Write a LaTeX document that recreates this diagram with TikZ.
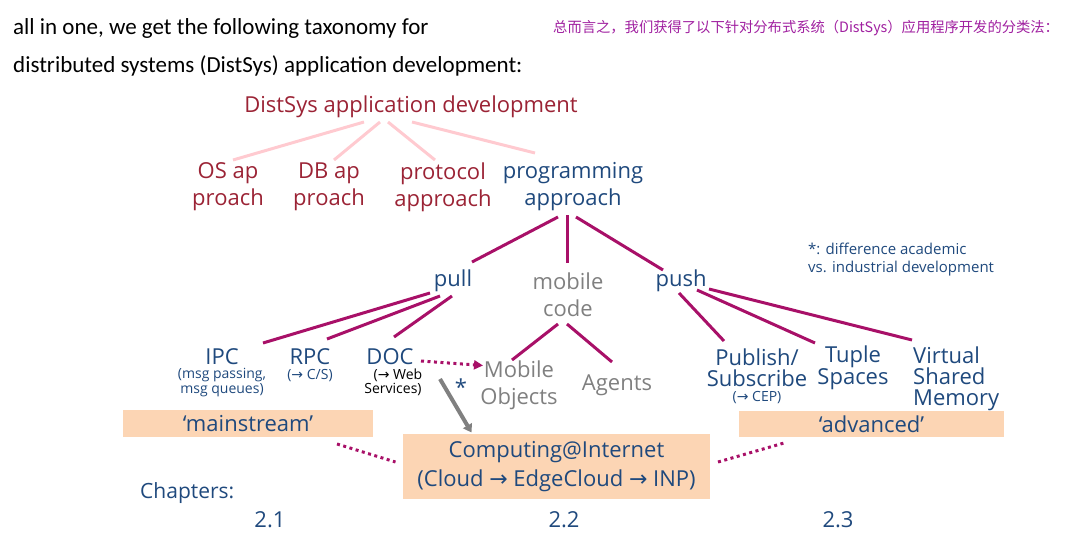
\documentclass[tikz,border=0pt]{standalone}
\usepackage{fontspec}
\setmainfont{Open Sans}
\newfontfamily\calfont{Carlito}
\newfontfamily\cjk{Noto Sans CJK SC}
\newfontfamily\symfont{DejaVu Sans}
\usetikzlibrary{arrows.meta}
\definecolor{dred}{RGB}{155,35,53}
\definecolor{dblue}{RGB}{31,73,125}
\definecolor{mgrey}{RGB}{128,128,128}
\definecolor{pinkl}{RGB}{255,202,208}
\definecolor{mag}{RGB}{168,16,104}
\definecolor{peach}{RGB}{252,213,180}
\definecolor{purp}{RGB}{160,32,160}
\newcommand{\ar}{{\symfont\char"2192}}
\tikzset{
  txt/.style={inner sep=0pt, align=center, font=\fontsize{22}{27}\selectfont},
  redt/.style={txt, text=dred},
  bluet/.style={txt, text=dblue},
  greyt/.style={txt, text=mgrey},
  small/.style={inner sep=0pt, align=center, font=\fontsize{14}{14.5}\selectfont},
  pinkline/.style={draw=pinkl, line width=3pt},
  magline/.style={draw=mag, line width=3pt},
  magdots/.style={draw=mag, line width=3pt, dash pattern=on 3pt off 3.5pt},
  peachbox/.style={fill=peach, inner sep=0pt, text=dblue, font=\fontsize{22}{29}\selectfont, align=center},
}
\begin{document}
\begin{tikzpicture}[x=1pt,y=-1pt]
\useasboundingbox (0,0) rectangle (1082,541);
% header text
\node[anchor=west, inner sep=0pt, font=\calfont\fontsize{23}{23}\selectfont] (h1) at (13,28) {all in one, we get the following taxonomy for};
\node[anchor=west, inner sep=0pt, font=\calfont\fontsize{23}{23}\selectfont] (h2) at (13,66) {distributed systems (DistSys) application development:};
\node[anchor=west, inner sep=0pt, text=purp, font=\cjk\fontsize{14.3}{14.5}\selectfont] (cn) at (553,28) {总而言之，我们获得了以下针对分布式系统（DistSys）应用程序开发的分类法：};
% level 0/1
\node[redt] (root) at (411,107) {DistSys application development};
\node[redt] (os) at (228,187) {OS ap\\proach};
\node[redt] (db) at (329,187) {DB ap\\proach};
\node[redt] (proto) at (443,187) {protocol\\approach};
\node[bluet] (prog) at (573,187) {programming\\approach};
% level 2
\node[bluet] (pull) at (453,281) {pull};
\node[greyt] (mob) at (568,294.5) {mobile\\code};
\node[bluet] (push) at (681,281) {push};
% level 3
\node[bluet] (ipc) at (222,357) {IPC};
\node[small, text=dblue] (ipcs) at (222,382.5) {(msg passing,\\msg queues)};
\node[bluet] (rpc) at (310,357) {RPC};
\node[small, text=dblue] (rpcs) at (310,376) {(\ar{} C/S)};
\node[bluet] (doc) at (390,357) {DOC};
\node[small, text=black] (docs) at (393,382.5) {\hspace*{10pt}(\ar{} Web\\Services)};
\node[greyt] (mobo) at (519,385.5) {Mobile\\Objects};
\node[greyt] (agents) at (617,385) {Agents};
\node[bluet, font=\fontsize{22}{21}\selectfont] (pub) at (757,368) {Publish/\\Subscribe};
\node[small, text=dblue] (pubs) at (757,397.5) {(\ar{} CEP)};
\node[bluet, font=\fontsize{22}{21}\selectfont] (tuple) at (853,368) {Tuple\\Spaces};
\node[bluet, anchor=west, align=left, font=\fontsize{22}{21}\selectfont] (vsm) at (913,379) {Virtual\\Shared\\Memory};
\node[anchor=west, inner sep=0pt, align=left, text=dblue, font=\fontsize{15}{18}\selectfont] (note) at (808,260) {*: difference academic\\vs. industrial development};
\node[inner sep=0pt, text=dblue, font=\fontsize{22}{22}\selectfont] (star) at (461,387) {*};
% boxes
\node[peachbox, minimum width=250pt, minimum height=27pt] (main) at (248,423.5) {‘mainstream’};
\node[peachbox, minimum width=265pt, minimum height=26pt] (adv) at (871.5,424) {‘advanced’};
\node[peachbox, minimum width=307pt, minimum height=65pt] (comp) at (556.5,466.5) {Computing@Internet\\(Cloud \ar{} EdgeCloud \ar{} INP)};
% chapters
\node[anchor=west, inner sep=0pt, text=dblue, font=\fontsize{21}{21}\selectfont] (chap) at (140,493) {Chapters:};
\node[inner sep=0pt, text=dblue, font=\fontsize{22}{22}\selectfont] (c1) at (270,520) {2.1};
\node[inner sep=0pt, text=dblue, font=\fontsize{22}{22}\selectfont] (c2) at (564,520) {2.2};
\node[inner sep=0pt, text=dblue, font=\fontsize{22}{22}\selectfont] (c3) at (838,520) {2.3};
% pink connectors
\draw[pinkline] ([xshift=-47pt,yshift=-15pt]root.center) -- ([xshift=5pt,yshift=27pt]os.center);
\draw[pinkline] ([xshift=-31pt,yshift=-15pt]root.center) -- ([xshift=5pt,yshift=27pt]db.center);
\draw[pinkline] ([xshift=-23pt,yshift=-15pt]root.center) -- ([xshift=-8pt,yshift=27pt]proto.center);
\draw[pinkline] ([xshift=1pt,yshift=-15pt]root.center) -- ([xshift=-38pt,yshift=34pt]prog.center);
% magenta connectors
\draw[magline] ([xshift=-15pt,yshift=-30pt]prog.center) -- ([xshift=19pt,yshift=19pt]pull.center);
\draw[magline] ([xshift=-6pt,yshift=-28pt]prog.center) -- ([xshift=-1pt,yshift=31.5pt]mob.center);
\draw[magline] ([xshift=3pt,yshift=-30pt]prog.center) -- ([xshift=-18pt,yshift=11pt]push.center);
\draw[magline] ([xshift=-23pt,yshift=-12pt]pull.center) -- ([xshift=41pt,yshift=14pt]ipc.center);
\draw[magline] ([xshift=-13pt,yshift=-15pt]pull.center) -- ([xshift=17pt,yshift=18pt]rpc.center);
\draw[magline] ([xshift=-1pt,yshift=-15pt]pull.center) -- ([xshift=4pt,yshift=20pt]doc.center);
\draw[magline] ([xshift=-10pt,yshift=-29.5pt]mob.center) -- ([xshift=-7pt,yshift=25.5pt]mobo.center);
\draw[magline] ([xshift=-1pt,yshift=-29.5pt]mob.center) -- ([xshift=-5pt,yshift=23pt]agents.center);
\draw[magline] ([xshift=-2pt,yshift=-12pt]push.center) -- ([xshift=-33pt,yshift=27pt]pub.center);
\draw[magline] ([xshift=16pt,yshift=-9pt]push.center) -- ([xshift=-38pt,yshift=25pt]tuple.center);
\draw[magline] ([xshift=28pt,yshift=-8pt]push.center) -- ([xshift=-1pt,yshift=39pt]vsm.west);
% dotted arrow DOC -> Mobile Objects
\draw[magdots, -{Triangle[length=9pt,width=9pt]}] ([xshift=31pt,yshift=-4pt]doc.center) -- ([xshift=-36pt,yshift=20pt]mobo.center);
% grey arrow DOC -> Computing
\draw[draw=mgrey, line width=4pt, -{Triangle[length=8pt,width=10pt]}] ([xshift=50pt,yshift=-22pt]doc.center) -- ([xshift=-85pt,yshift=34pt]comp.center);
% dotted links to Computing box
\draw[magdots] ([xshift=89pt,yshift=-20.5pt]main.center) -- ([xshift=-161pt,yshift=4.5pt]comp.center);
\draw[magdots] ([xshift=161.5pt,yshift=4.5pt]comp.center) -- ([xshift=-87.5pt,yshift=-19pt]adv.center);
\end{tikzpicture}
\end{document}
